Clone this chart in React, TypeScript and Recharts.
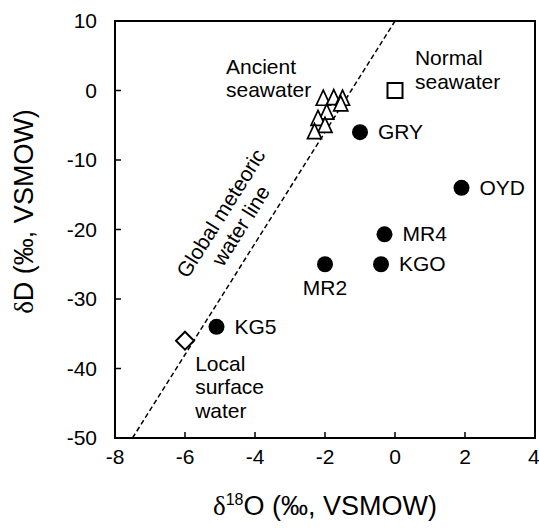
import React from 'react';
import { ScatterChart, Scatter, XAxis, YAxis, ReferenceArea, Label } from 'recharts';

const FONT = '"Liberation Sans", Arial, sans-serif';
const SERIF = '"Liberation Serif", "Times New Roman", serif';

const xTicks = [-8, -6, -4, -2, 0, 2, 4];
const yTicks = [-50, -40, -30, -20, -10, 0, 10];

// hot spring samples (filled circles)
const samples = [
  { x: -1.0, y: -6, name: 'GRY', pos: 'right' },
  { x: 1.9, y: -14, name: 'OYD', pos: 'right' },
  { x: -0.3, y: -20.7, name: 'MR4', pos: 'right' },
  { x: -0.4, y: -25, name: 'KGO', pos: 'right' },
  { x: -2.0, y: -25, name: 'MR2', pos: 'below' },
  { x: -5.1, y: -34, name: 'KG5', pos: 'right' },
];

const ancientSeawater = [
  { x: -2.05, y: -1.4 },
  { x: -1.75, y: -1.3 },
  { x: -1.5, y: -1.4 },
  { x: -1.55, y: -2.2 },
  { x: -1.95, y: -3.4 },
  { x: -2.2, y: -4.3 },
  { x: -2.0, y: -5.3 },
  { x: -2.3, y: -6.2 },
];

const normalSeawater = [{ x: 0, y: 0 }];
const localSurfaceWater = [{ x: -6, y: -36 }];

// GMWL: dD = 8 d18O + 10
const meteoricLine = [
  { x: -7.5, y: -50 },
  { x: 0, y: 10 },
];

const notes = [
  { x: -4.83, y: 2.4, lines: ['Ancient', 'seawater'], angle: 0, anchor: 'start' },
  { x: 0.57, y: 3.6, lines: ['Normal', 'seawater'], angle: 0, anchor: 'start' },
  { x: -5.71, y: -40.3, lines: ['Local', 'surface', 'water'], angle: 0, anchor: 'start' },
  { x: -4.8, y: -18.2, lines: ['Global meteoric', 'water line'], angle: -57.8, anchor: 'middle' },
];

const Dot = (props: any) => {
  const { cx, cy, payload } = props;
  const below = payload.pos === 'below';
  return (
    <g>
      <circle cx={cx} cy={cy} r={8} fill='#000' />
      <text
        x={below ? cx : cx + 18}
        y={below ? cy + 31 : cy + 7}
        textAnchor={below ? 'middle' : 'start'}
        fontSize={21}
        fontFamily={FONT}
        fill='#000'
      >
        {payload.name}
      </text>
    </g>
  );
};

const Triangle = (props: any) => {
  const { cx, cy } = props;
  return (
    <polygon
      points={`${cx},${cy - 10} ${cx + 7},${cy + 5} ${cx - 7},${cy + 5}`}
      fill='#fff'
      stroke='#000'
      strokeWidth={1.7}
    />
  );
};

const Square = (props: any) => {
  const { cx, cy } = props;
  return <rect x={cx - 7.5} y={cy - 7.5} width={15} height={15} fill='#fff' stroke='#000' strokeWidth={2} />;
};

const Diamond = (props: any) => {
  const { cx, cy } = props;
  return (
    <polygon
      points={`${cx},${cy - 9} ${cx + 9},${cy} ${cx},${cy + 9} ${cx - 9},${cy}`}
      fill='#fff'
      stroke='#000'
      strokeWidth={2}
    />
  );
};

const Note = (props: any) => {
  const { cx, cy, payload } = props;
  return (
    <text
      transform={`translate(${cx},${cy}) rotate(${payload.angle})`}
      textAnchor={payload.anchor}
      fontSize={21}
      fontFamily={FONT}
      fill='#000'
    >
      {payload.lines.map((t: string, i: number) => (
        <tspan key={i} x={0} y={i * 23.5}>
          {t}
        </tspan>
      ))}
    </text>
  );
};

const Empty = () => <g />;

const XTitle = (props: any) => {
  const { viewBox } = props;
  return (
    <text x={viewBox.x + viewBox.width / 2} y={viewBox.y + 77} textAnchor='middle' fontSize={27} fontFamily={FONT} fill='#000'>
      <tspan fontFamily={SERIF}>δ</tspan>
      <tspan fontSize={16} dy={-10}>18</tspan>
      <tspan dy={10}>O (‰, VSMOW)</tspan>
    </text>
  );
};

const YTitle = (props: any) => {
  const { viewBox } = props;
  const x = viewBox.x + 33;
  const y = viewBox.y + viewBox.height / 2 - 18;
  return (
    <text transform={`translate(${x},${y}) rotate(-90)`} textAnchor='middle' fontSize={27} fontFamily={FONT} fill='#000'>
      <tspan fontFamily={SERIF}>δ</tspan>
      <tspan>D (‰, VSMOW)</tspan>
    </text>
  );
};

const App: React.FC = () => {
  const tickStyle = { fill: '#000', fontSize: 21, fontFamily: FONT };
  return (
    <div style={{ position: 'absolute', left: 0, top: 0, background: '#fff' }}>
      <ScatterChart width={539} height={531} margin={{ top: 21, right: 4, bottom: 0, left: 0 }}>
        <XAxis
          type='number'
          dataKey='x'
          domain={[-8, 4]}
          ticks={xTicks}
          height={93}
          tickSize={-6}
          tickMargin={17}
          tick={tickStyle}
          axisLine={{ stroke: '#000', strokeWidth: 2 }}
          tickLine={{ stroke: '#000', strokeWidth: 1.5 }}
          allowDataOverflow
        >
          <Label content={<XTitle />} />
        </XAxis>
        <YAxis
          type='number'
          dataKey='y'
          domain={[-50, 10]}
          ticks={yTicks}
          width={115}
          tickSize={-6}
          tickMargin={24}
          tick={tickStyle}
          axisLine={{ stroke: '#000', strokeWidth: 2 }}
          tickLine={{ stroke: '#000', strokeWidth: 1.5 }}
          allowDataOverflow
        >
          <Label content={<YTitle />} />
        </YAxis>
        <ReferenceArea x1={-8} x2={4} y1={-50} y2={10} fill='none' stroke='#000' strokeWidth={2} />
        <Scatter
          data={meteoricLine}
          line={{ stroke: '#000', strokeWidth: 1.5, strokeDasharray: '5 3' }}
          shape={<Empty />}
          isAnimationActive={false}
        />
        <Scatter data={notes} shape={<Note />} isAnimationActive={false} />
        <Scatter data={ancientSeawater} shape={<Triangle />} isAnimationActive={false} />
        <Scatter data={normalSeawater} shape={<Square />} isAnimationActive={false} />
        <Scatter data={localSurfaceWater} shape={<Diamond />} isAnimationActive={false} />
        <Scatter data={samples} shape={<Dot />} isAnimationActive={false} />
      </ScatterChart>
    </div>
  );
};

export default App;
